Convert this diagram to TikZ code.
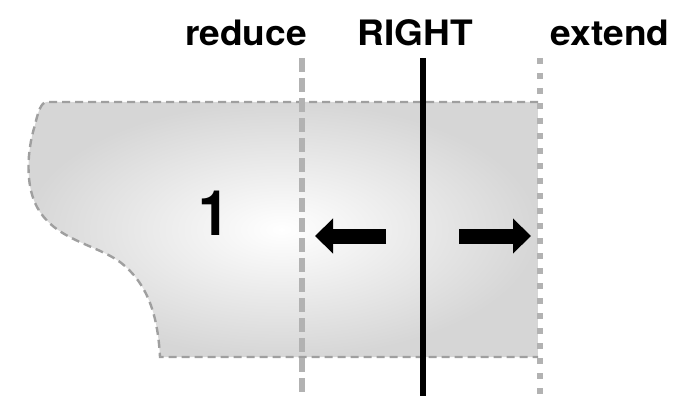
\documentclass[tikz,border=0pt]{standalone}
\usepackage{fontspec}
\setmainfont{TeX Gyre Heros}
\usetikzlibrary{arrows.meta}
\tikzset{
  lbl/.style={font=\fontsize{35}{35}\selectfont\bfseries, inner sep=0pt, xscale=1.06},
  region/.style={draw=gray!75, line width=2.4pt, dash pattern=on 8pt off 5pt},
  reduceline/.style={draw=gray!60, line width=6.5pt, dash pattern=on 14pt off 6pt},
  extendline/.style={draw=gray!60, line width=6.5pt, dash pattern=on 6pt off 9pt},
  rightline/.style={draw=black, line width=5.5pt},
  bigarrow/.style={line width=15pt, -{Triangle[length=18pt,width=34pt]}}
}
\begin{document}
\begin{tikzpicture}[x=1pt,y=-1pt]
\useasboundingbox (0,0) rectangle (678,396);
% region
\path[shade, inner color=white, outer color=gray!32, shading=radial]
  (47,102) -- (538,102) -- (538,357) -- (160,357)
  .. controls (158,320) and (150,285) .. (120,262)
  .. controls (95,244) and (55,240) .. (37,207)
  .. controls (25,185) and (27,150) .. (35,125)
  .. controls (38,112) and (41,102) .. (47,102) -- cycle;
\draw[region] (538,102) -- (47,102)
  .. controls (41,102) and (38,112) .. (35,125)
  .. controls (27,150) and (25,185) .. (37,207)
  .. controls (55,240) and (95,244) .. (120,262)
  .. controls (150,285) and (158,320) .. (160,357) -- (538,357);
% lines
\coordinate (rt) at (302,58); \coordinate (rb) at (302,396);
\coordinate (mt) at (423,58); \coordinate (mb) at (423,396);
\coordinate (et) at (540,58); \coordinate (eb) at (540,396);
\draw[reduceline] (rt) -- (rb);
\draw[extendline] (et) -- (eb);
\draw[rightline] (mt) -- (mb);
% arrows
\coordinate (la) at (386,236); \coordinate (lt) at (315,236);
\coordinate (ra) at (459,236); \coordinate (rtip) at (531,236);
\draw[bigarrow] (la) -- (lt);
\draw[bigarrow] (ra) -- (rtip);
% labels
\node[lbl] (reduce) at (246,33) {reduce};
\node[lbl] (right) at (415,33) {RIGHT};
\node[lbl] (extend) at (610,33) {extend};
\node[font=\fontsize{56}{56}\selectfont\bfseries, inner sep=0pt, yscale=1.12] (one) at (214,213) {1};
\end{tikzpicture}
\end{document}
